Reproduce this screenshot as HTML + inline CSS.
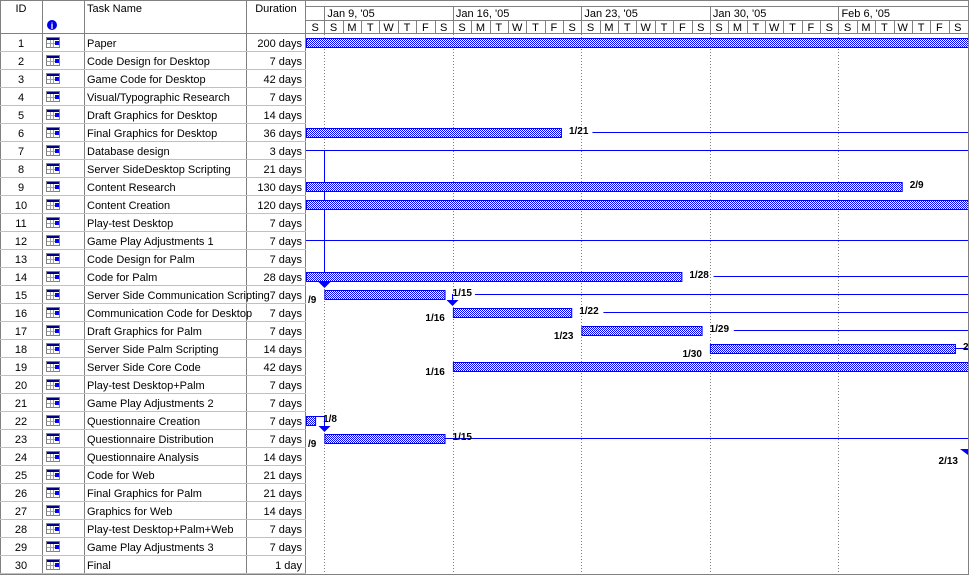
<!DOCTYPE html>
<html><head><meta charset="utf-8"><style>
body{margin:0;background:#fff;}
svg{display:block;font-family:"Liberation Sans",sans-serif;font-size:11px;}
</style></head><body>
<svg id="g" width="970" height="575" viewBox="0 0 970 575" xmlns="http://www.w3.org/2000/svg">
<defs>
<pattern id="chk" width="2" height="2" patternUnits="userSpaceOnUse">
<rect width="2" height="2" fill="#fff"/><rect width="1" height="1" fill="#0000ff"/><rect x="1" y="1" width="1" height="1" fill="#0000ff"/>
</pattern>
<clipPath id="cc"><rect x="306" y="34" width="662" height="541"/></clipPath>
</defs>
<rect width="970" height="575" fill="#fff"/>
<g id="grid"></g>
<g id="chart" clip-path="url(#cc)"></g>
<g id="lbl"></g>
</svg>
<script>
const taskNames=["Paper","Code Design for Desktop","Game Code for Desktop","Visual/Typographic Research","Draft Graphics for Desktop","Final Graphics for Desktop","Database design","Server SideDesktop Scripting","Content Research","Content Creation","Play-test Desktop","Game Play Adjustments 1","Code Design for Palm","Code for Palm","Server Side Communication Scripting","Communication Code for Desktop","Draft Graphics for Palm","Server Side Palm Scripting","Server Side Core Code","Play-test Desktop+Palm","Game Play Adjustments 2","Questionnaire Creation","Questionnaire Distribution","Questionnaire Analysis","Code for Web","Final Graphics for Palm","Graphics for Web","Play-test Desktop+Palm+Web","Game Play Adjustments 3","Final"];
const durations=["200 days","7 days","42 days","7 days","14 days","36 days","3 days","21 days","130 days","120 days","7 days","7 days","7 days","28 days","7 days","7 days","7 days","14 days","42 days","7 days","7 days","7 days","7 days","14 days","21 days","21 days","14 days","7 days","7 days","1 day"];
const weekLabels=["Jan 9, '05","Jan 16, '05","Jan 23, '05","Jan 30, '05","Feb 6, '05"];
const dayLetters=["S","S","M","T","W","T","F","S","S","M","T","W","T","F","S","S","M","T","W","T","F","S","S","M","T","W","T","F","S","S","M","T","W","T","F","S"];
// bars: row (1-based), start day, end day (day 0 = Sat Jan 8)
const barRows=[1,6,9,10,14,15,16,17,18,19,22,23];
const barStart=[0,0,0,0,0,1,8,15,22,8,0,1];
const barEnd=[40,13.94,32.5,40,20.5,7.6,14.5,21.6,35.4,40,0.55,7.6];
const startLabels=["","","","","","/9","1/16","1/23","1/30","1/16","","/9"];
const endLabels=["","1/21","2/9","","1/28","1/15","1/22","1/29","2","","1/8","1/15"];
// link lines: row, from day, to day
const linkRows=[6,7,12,14,15,16,17,18,23];
const linkFrom=[15.6,0,0,22.2,9.2,16.2,23.3,35.4,7.6];
const linkTo=[40,40,40,40,40,40,40,40,40];

const NS="http://www.w3.org/2000/svg";
const X0=306,DW=18.36,TOP=34,RH=18;
const xs=d=>X0+d*DW;
const rowY=r=>TOP+(r-1)*RH;
function mk(tag,attrs,parent,txt){const e=document.createElementNS(NS,tag);for(const k in attrs)e.setAttribute(k,attrs[k]);if(txt!==undefined)e.textContent=txt;parent.appendChild(e);return e;}
const grid=document.getElementById('grid'),chart=document.getElementById('chart'),lbl=document.getElementById('lbl');

// header lines
mk('line',{x1:0,y1:0.5,x2:969,y2:0.5,stroke:'#808080'},grid);
mk('line',{x1:306,y1:6.5,x2:969,y2:6.5,stroke:'#808080'},grid);
mk('line',{x1:306,y1:20.5,x2:969,y2:20.5,stroke:'#808080'},grid);
mk('line',{x1:0,y1:33.5,x2:969,y2:33.5,stroke:'#808080'},grid);
[42,84,246].forEach(x=>mk('line',{x1:x+.5,y1:0,x2:x+.5,y2:575,stroke:'#808080'},grid));
mk('line',{x1:305.5,y1:0,x2:305.5,y2:575,stroke:'#808080'},grid);
mk('line',{x1:968.5,y1:0,x2:968.5,y2:575,stroke:'#808080'},grid);
mk('line',{x1:0.5,y1:0,x2:0.5,y2:575,stroke:'#808080'},grid);
mk('line',{x1:0,y1:574.5,x2:969,y2:574.5,stroke:'#808080'},grid);
let t;
t=mk('text',{x:21,y:12,'text-anchor':'middle'},lbl,'ID');
t=mk('text',{x:87,y:12},lbl,'Task Name');
t=mk('text',{x:276,y:12,'text-anchor':'middle'},lbl,'Duration');
const ic=mk('g',{},lbl);
mk('circle',{cx:52,cy:25,r:5,fill:'#0000ee'},ic);
mk('text',{x:52,y:29,'text-anchor':'middle',fill:'#fff','font-size':'9','font-weight':'bold'},ic,'i');

// timescale
weekLabels.forEach((w,i)=>{const x=xs(1+7*i);
 mk('line',{x1:Math.round(x)+.5,y1:6,x2:Math.round(x)+.5,y2:20,stroke:'#808080'},grid);
 const e=mk('text',{x:x+3,y:17},lbl,w);
 mk('line',{x1:Math.round(x)+.5,y1:34,x2:Math.round(x)+.5,y2:575,stroke:'#808080','stroke-dasharray':'1,2'},grid);
});
dayLetters.forEach((d,i)=>{const x=xs(i);
 if(i>0)mk('line',{x1:Math.round(x)+.5,y1:20,x2:Math.round(x)+.5,y2:33,stroke:'#808080'},grid);
 const e=mk('text',{x:x+DW/2,y:31,'text-anchor':'middle'},lbl,d);
});

// rows
taskNames.forEach((n,i)=>{const y=rowY(i+1);
 mk('line',{x1:0,y1:y+17.5,x2:306,y2:y+17.5,stroke:'#c0c0c0'},grid);
 let e=mk('text',{x:21,y:y+13,'text-anchor':'middle'},lbl,String(i+1));
 const g=mk('g',{},lbl);
 mk('rect',{x:46.5,y:y+3.5,width:13,height:10,fill:'#fff',stroke:'#808080'},g);
 mk('rect',{x:47,y:y+4,width:12,height:2,fill:'#000080'},g);
 mk('path',{d:`M50.5 ${y+6}V${y+13.5}M53.5 ${y+6}V${y+13.5}M47 ${y+9.5}H59`,stroke:'#a0a0a0'},g);
 mk('rect',{x:55,y:y+7,width:4,height:4,fill:'#0000ff'},g);
 e=mk('text',{x:87,y:y+13},lbl,n);
 e=mk('text',{x:302,y:y+13,'text-anchor':'end'},lbl,durations[i]);
});

// link lines
linkRows.forEach((r,i)=>{const y=rowY(r)+8.5;
 const l=mk('line',{x1:xs(linkFrom[i]),y1:y,x2:xs(linkTo[i]),y2:y,stroke:'#0000ff'},chart);
 
});
// connectors
function arrow(x,y){const p=mk('path',{d:`M${x-6} ${y-6}H${x+6}L${x} ${y}Z`,fill:'#0000ff'},chart);}
mk('line',{x1:324.5,y1:rowY(7)+8,x2:324.5,y2:rowY(15)-1,stroke:'#0000ff'},chart);arrow(324.5,rowY(15)+2);
mk('line',{x1:452.5,y1:rowY(15)+8,x2:452.5,y2:rowY(16)-1,stroke:'#0000ff'},chart);arrow(452.5,rowY(16)+2);
mk('path',{d:`M316 ${rowY(22)+4.5}H324.5V${rowY(23)-1}`,stroke:'#0000ff',fill:'none'},chart);arrow(324.5,rowY(23)+2);
mk('path',{d:`M960 ${rowY(24)+1}H968V${rowY(24)+7}Z`,fill:'#0000ff'},chart);

// bars
barRows.forEach((r,i)=>{const y=rowY(r)+4;const x1=xs(barStart[i]),x2=xs(barEnd[i]);
 const b=mk('rect',{x:x1+.5,y:y+.5,width:Math.max(1,x2-x1-1),height:9,fill:'url(#chk)',stroke:'#0000ff'},chart);
 
 if(endLabels[i]){const e=mk('text',{x:x2+7,y:y+6,'font-weight':'bold','font-size':'10'},chart,endLabels[i]);}
 if(startLabels[i]){const e=mk('text',{x:x1-8,y:y+13,'font-weight':'bold','font-size':'10','text-anchor':'end'},chart,startLabels[i]);}
});
let e2=mk('text',{x:958,y:rowY(24)+16,'font-weight':'bold','font-size':'10','text-anchor':'end'},chart,'2/13');


</script>
</body></html>
